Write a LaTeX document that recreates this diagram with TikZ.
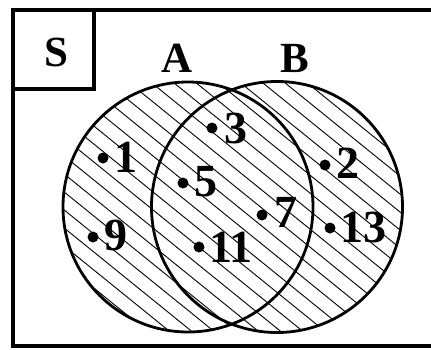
\documentclass[tikz,border=0pt]{standalone}
\usepackage{fontspec}
\setmainfont{Liberation Serif}
\begin{document}
\begin{tikzpicture}[x=1pt,y=-1pt,
  lbl/.style={font=\fontsize{43}{43}\selectfont\bfseries, inner sep=0pt},
  num/.style={font=\fontsize{46}{46}\selectfont\bfseries, inner sep=0pt, anchor=west},
  pt/.style={circle, fill=black, inner sep=0pt, minimum size=11pt},
  hatch/.style={line width=0.9pt},
  ring/.style={line width=2.8pt},
  frame/.style={line width=4pt}]
\useasboundingbox (0,0) rectangle (431,349);
% hatching over A union B
\begin{scope}
  \clip (188,207) circle (125) (277,207) circle (125);
  \foreach \b in {-400,-382,...,400} {
    \draw[hatch] (40,{0.81*40+\b}) -- (420,{0.81*420+\b});
  }
\end{scope}
% circles
\node[draw, ring, circle, minimum size=250pt, inner sep=0pt] (A) at (188,207) {};
\node[draw, ring, circle, minimum size=251pt, inner sep=0pt] (B) at (277,207) {};
% frame
\draw[frame] (431,9.5) -- (13,9.5) -- (13,346) -- (431,346);
\draw[frame] (13,89) -- (94,89) -- (94,9.5);
% labels
\node[lbl] (S) at (56,52) {S};
\node[lbl] (lA) at (177,58) {A};
\node[lbl] (lB) at (295,58) {B};
% points
\node[pt] (p1) at (103,158) {};  \node[num] (t1) at (114,157) {1};
\node[pt] (p3) at (212,128) {};  \node[num] (t3) at (224,128) {3};
\node[pt] (p5) at (183,183) {};  \node[num] (t5) at (194,182) {5};
\node[pt] (p7) at (262,215) {};  \node[num] (t7) at (274,212) {7};
\node[pt] (p9) at (93,237) {};   \node[num] (t9) at (104,235) {9};
\node[pt] (p11) at (199,247) {}; \node[num] (t11) at (209,247) {11};
\node[pt] (p2) at (325,165) {};  \node[num] (t2) at (336,163) {2};
\node[pt] (p13) at (330,228) {}; \node[num] (t13) at (340,227) {13};
\end{tikzpicture}
\end{document}
